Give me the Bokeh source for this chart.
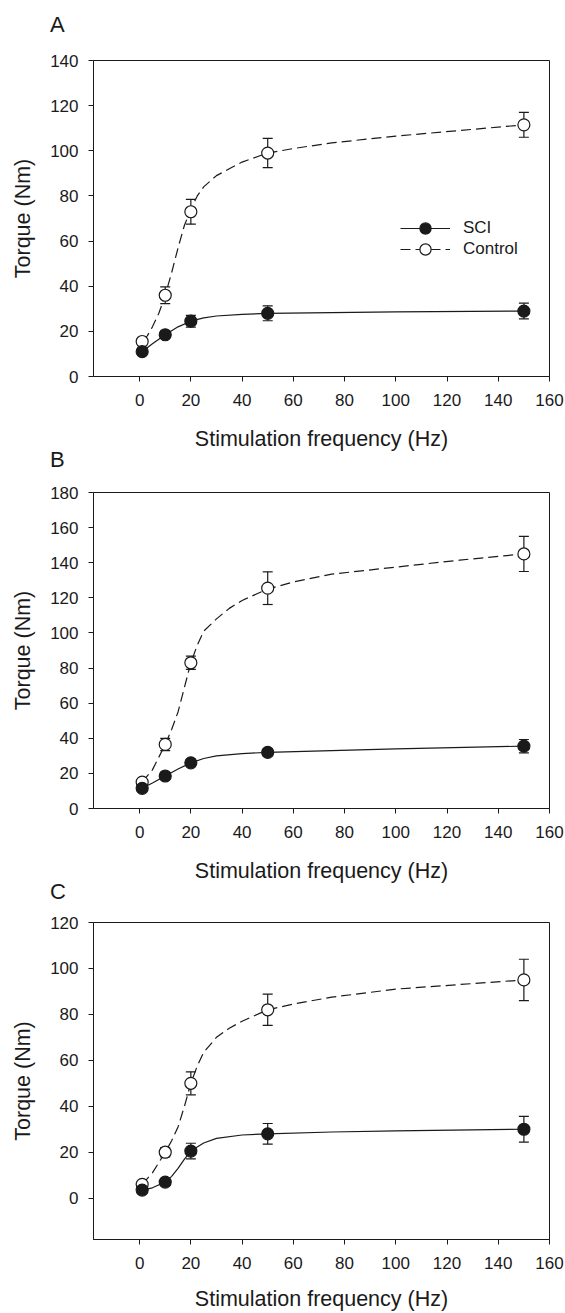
from bokeh.plotting import figure
from bokeh.models import (ColumnDataSource, Range1d, FixedTicker, Whisker, TeeHead,
                          Legend, LegendItem, Div)
from bokeh.layouts import column
from bokeh.embed import file_html
from bokeh.resources import INLINE

# ---------------- data ----------------
freq = [1, 10, 20, 50, 150]
x_ticks = [0, 20, 40, 60, 80, 100, 120, 140, 160]
x_label = "Stimulation frequency (Hz)"
y_label = "Torque (Nm)"

# Panel A
A_sci = [11, 18.5, 24.5, 28, 29]
A_sci_err = [1.5, 1.5, 2.6, 3.3, 3.5]
A_ctl = [15.5, 36, 73, 99, 111.5]
A_ctl_err = [1.5, 3.7, 5.5, 6.5, 5.5]
A_fit_sci_x = [1, 5, 10, 15, 20, 25, 30, 40, 50, 75, 100, 150]
A_fit_sci_y = [11, 14.5, 18.5, 22, 24.5, 26, 26.8, 27.5, 28, 28.3, 28.6, 29]
A_fit_ctl_x = [1, 3, 5, 7.5, 10, 12.5, 15, 17.5, 20, 22.5, 25, 30, 35, 40, 50, 60, 75, 100, 125, 150]
A_fit_ctl_y = [16, 18, 22, 28, 36, 46, 57, 67, 74, 80, 84, 89, 92, 95, 99, 101, 103.5, 106.5, 109, 111.5]
A_yticks = [0, 20, 40, 60, 80, 100, 120, 140]

# Panel B
B_sci = [11.5, 18.5, 26, 32, 35.5]
B_sci_err = [1, 1.5, 2, 2, 3.8]
B_ctl = [15, 36.5, 83, 125.5, 145]
B_ctl_err = [1.5, 3.5, 3.8, 9.3, 10]
B_fit_sci_x = [1, 5, 10, 15, 20, 25, 30, 40, 50, 75, 100, 150]
B_fit_sci_y = [11.5, 14.5, 18.5, 22.5, 26, 28.5, 30, 31.3, 32, 33, 34, 35.5]
B_fit_ctl_x = [1, 5, 10, 12.5, 15, 17.5, 20, 22.5, 25, 30, 35, 40, 50, 60, 75, 100, 125, 150]
B_fit_ctl_y = [15, 22, 36.5, 45, 55, 69, 83, 93, 101, 108, 114, 118.5, 125, 129, 133.5, 137.5, 141.5, 145]
B_yticks = [0, 20, 40, 60, 80, 100, 120, 140, 160, 180]

# Panel C
C_sci = [3.5, 7, 20.5, 28, 30]
C_sci_err = [1, 1.5, 3.4, 4.5, 5.6]
C_ctl = [6, 20, 50, 82, 95]
C_ctl_err = [1, 2, 5, 6.8, 9]
C_fit_sci_x = [1, 5, 10, 12.5, 15, 17.5, 20, 25, 30, 40, 50, 75, 100, 150]
C_fit_sci_y = [3.5, 4.5, 7, 9.5, 13, 17, 20.5, 24, 26, 27.5, 28, 28.8, 29.3, 30]
C_fit_ctl_x = [1, 5, 10, 12.5, 15, 17.5, 20, 22.5, 25, 30, 35, 40, 50, 60, 75, 100, 125, 150]
C_fit_ctl_y = [6, 11, 20, 25, 31, 40, 50, 57.5, 63.5, 70, 74, 77, 82, 84.5, 87.5, 91, 93, 95]
C_yticks = [0, 20, 40, 60, 80, 100, 120]

FONT = "Liberation Sans"
INK = "#1a1a1a"


def letter_div(letter, height, line_h):
    return Div(text=letter, width=565, height=height, margin=(0, 0, 0, 0),
               styles={"font-family": FONT, "font-size": "22px",
                       "line-height": f"{line_h}px", "padding-left": "50px",
                       "color": INK, "overflow": "visible"})


def panel(yr, yticks, sci, sci_err, ctl, ctl_err,
          fsx, fsy, fcx, fcy, height, btop, bbot,
          title_standoff=18, legend=False):
    p = figure(width=565, height=height, output_backend="svg", toolbar_location=None,
               x_range=Range1d(-18, 160), y_range=Range1d(*yr),
               min_border_left=93, min_border_right=16,
               min_border_top=btop, min_border_bottom=bbot)
    p.xgrid.visible = False
    p.ygrid.visible = False
    p.outline_line_color = INK
    p.outline_line_width = 1
    p.background_fill_color = "white"
    p.border_fill_color = "white"

    for ax in (p.xaxis[0], p.yaxis[0]):
        ax.axis_line_color = INK
        ax.major_tick_line_color = INK
        ax.major_tick_out = 5
        ax.major_tick_in = 0
        ax.minor_tick_line_color = None
        ax.major_label_text_font = FONT
        ax.major_label_text_font_size = "17px"
        ax.major_label_text_color = INK
        ax.axis_label_text_font = FONT
        ax.axis_label_text_font_size = "21.5px"
        ax.axis_label_text_font_style = "normal"
        ax.axis_label_text_color = INK
    p.xaxis.ticker = FixedTicker(ticks=x_ticks)
    p.yaxis.ticker = FixedTicker(ticks=yticks)
    p.xaxis.axis_label = x_label
    p.yaxis.axis_label = y_label
    p.xaxis.major_label_standoff = 12
    p.xaxis.axis_label_standoff = title_standoff
    p.yaxis.major_label_standoff = 10
    p.yaxis.axis_label_standoff = 12

    # fitted curves
    l_sci = p.line(fsx, fsy, line_color=INK, line_width=1.2)
    l_ctl = p.line(fcx, fcy, line_color=INK, line_width=1.2, line_dash="10 5")

    # error bars
    def whisk(vals, errs):
        src = ColumnDataSource(dict(x=freq,
                                    lo=[v - e for v, e in zip(vals, errs)],
                                    hi=[v + e for v, e in zip(vals, errs)]))
        w = Whisker(source=src, base="x", upper="hi", lower="lo", dimension="height",
                    line_color=INK, line_width=1.2,
                    upper_head=TeeHead(size=10, line_color=INK, line_width=1.2),
                    lower_head=TeeHead(size=10, line_color=INK, line_width=1.2))
        p.add_layout(w)
    whisk(ctl, ctl_err)
    whisk(sci, sci_err)

    s_ctl = p.scatter(freq, ctl, size=12, marker="circle", fill_color="white",
                      line_color=INK, line_width=1.2)
    s_sci = p.scatter(freq, sci, size=12, marker="circle", fill_color=INK,
                      line_color=INK, line_width=1.2)

    if legend:
        common = dict(glyph_width=50, glyph_height=28, label_height=28, spacing=0,
                      padding=0, margin=0, label_standoff=13, border_line_color=None,
                      background_fill_alpha=0, label_text_font=FONT,
                      label_text_font_size="17px", label_text_color=INK)
        p.add_layout(Legend(items=[LegendItem(label="SCI", renderers=[l_sci, s_sci])],
                            location=(307, 134), **common), "center")
        p.add_layout(Legend(items=[LegendItem(label="Control", renderers=[l_ctl, s_ctl])],
                            location=(307, 113), **common), "center")
    return p


dA = letter_div("A", 36, 50)
pA = panel((0, 140), A_yticks, A_sci, A_sci_err, A_ctl, A_ctl_err,
           A_fit_sci_x, A_fit_sci_y, A_fit_ctl_x, A_fit_ctl_y,
           height=417, btop=24, bbot=77, legend=True)
dB = letter_div("B", 16, 14)
pB = panel((0, 180), B_yticks, B_sci, B_sci_err, B_ctl, B_ctl_err,
           B_fit_sci_x, B_fit_sci_y, B_fit_ctl_x, B_fit_ctl_y,
           height=416, btop=23, bbot=77)
dC = letter_div("C", 14, 14)
pC = panel((-18, 120), C_yticks, C_sci, C_sci_err, C_ctl, C_ctl_err,
           C_fit_sci_x, C_fit_sci_y, C_fit_ctl_x, C_fit_ctl_y,
           height=414, btop=23, bbot=74, title_standoff=15)

layout = column(dA, pA, dB, pB, dC, pC, spacing=0)
open("out.html", "w").write(file_html(layout, INLINE))
